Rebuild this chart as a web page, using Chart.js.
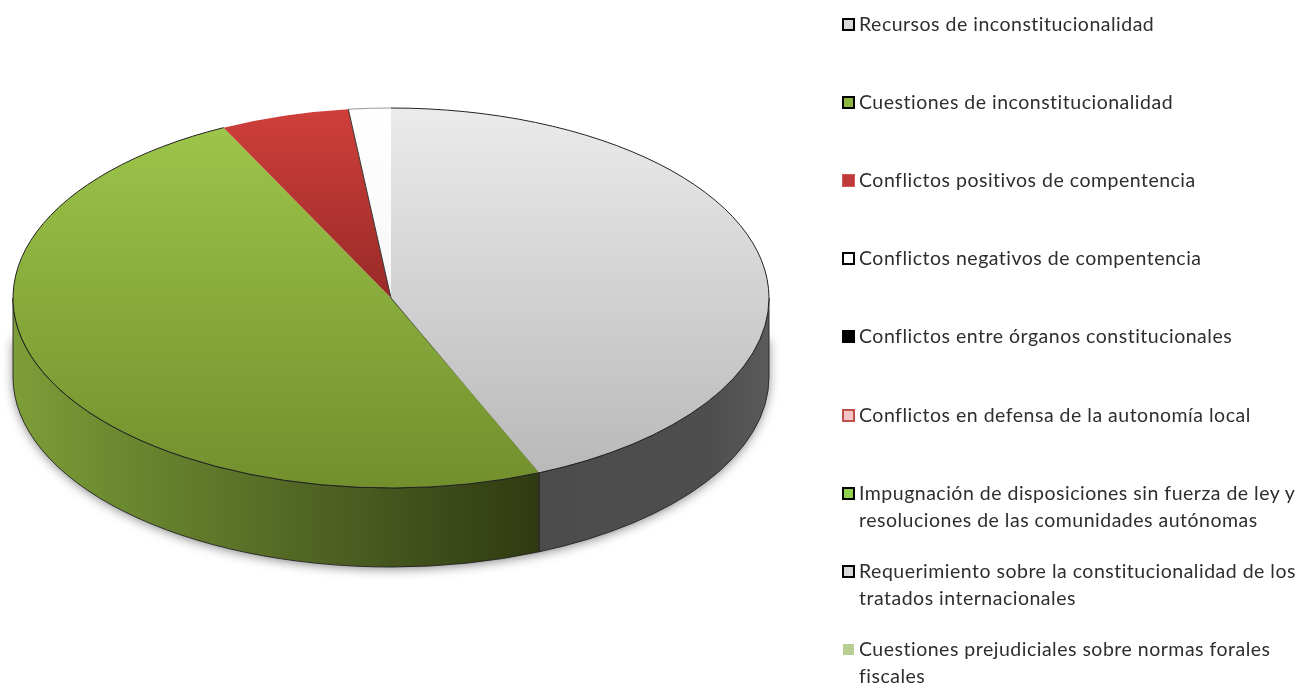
<!DOCTYPE html>
<html>
<head>
<meta charset="utf-8">
<script src="https://cdn.jsdelivr.net/npm/chart.js@4"></script>
<style>
  body { margin: 0; background: #fff; }
  #wrap { position: relative; width: 1304px; height: 686px; overflow: hidden; }
  #grafico { position: absolute; left: 0; top: 0; }
  .fila { position: absolute; left: 859px; font: 19.5px/27px Lato, sans-serif; letter-spacing: 0.5px; color: #2e2e2e; white-space: pre; }
  .marca { position: absolute; left: -17px; top: 8px; width: 13px; height: 13px; box-sizing: border-box; }
</style>
</head>
<body>
<div id="wrap">
  <canvas id="grafico" width="1304" height="686"></canvas>
  <div id="leyenda"></div>
</div>
<script>
const categorias = [
  "Recursos de inconstitucionalidad",
  "Cuestiones de inconstitucionalidad",
  "Conflictos positivos de compentencia",
  "Conflictos negativos de compentencia",
  "Conflictos entre órganos constitucionales",
  "Conflictos en defensa de la autonomía local",
  "Impugnación de disposiciones sin fuerza de ley y\nresoluciones de las comunidades autónomas",
  "Requerimiento sobre la constitucionalidad de los\ntratados internacionales",
  "Cuestiones prejudiciales sobre normas forales\nfiscales"
];
const valores = [43.6, 49.1, 5.5, 1.8, 0, 0, 0, 0, 0];

// legend swatches: fill, border
const marcaFondo = ["#d9d9d9", "#8fb63f", "#c0393a", "#ffffff", "#000000", "#f6c4c4", "#92d050", "#d9d9d9", "#b7cf92"];
const marcaBorde = ["#000000", "#000000", "#d05a58", "#000000", "#000000", "#c0504d", "#000000", "#000000", "#ffffff"];
const marcaGrosor = [2, 2, 1, 2, 2, 2, 2, 2, 1];

// top face gradient: colour top, colour bottom, top and bottom as fraction of the height
const caraSup = ["#ebebeb", "#9dc64a", "#d03f3a", "#ffffff", "#000", "#000", "#000", "#000", "#000"];
const caraInf = ["#b9b9b9", "#728f2d", "#982a28", "#f7f7f7", "#000", "#000", "#000", "#000", "#000"];
const caraDesde = [0, 0.03, 0, 0, 0, 0, 0, 0, 0];
const caraHasta = [0.96, 1, 0.5, 0.5, 1, 1, 1, 1, 1];

const cx = 391, cy = 298, rx = 378, ry = 190, fondo = 79;
const escala = ry / rx;

function rellenoCara(c) {
  const i = c.dataIndex;
  const g = c.chart.ctx.createLinearGradient(0, cy - rx + 2 * rx * caraDesde[i], 0, cy - rx + 2 * rx * caraHasta[i]);
  g.addColorStop(0, caraSup[i]);
  g.addColorStop(1, caraInf[i]);
  return g;
}

function rellenoLado(ctx, i) {
  const g = i === 0 ? ctx.createLinearGradient(538, 0, 769, 0) : ctx.createLinearGradient(13, 0, 538, 0);
  if (i === 0) {
    g.addColorStop(0, "#4c4c4c");
    g.addColorStop(0.75, "#4e4e4e");
    g.addColorStop(1, "#5a5a5a");
  } else {
    g.addColorStop(0, "#7d9e38");
    g.addColorStop(0.2, "#6b8a30");
    g.addColorStop(0.5, "#566b26");
    g.addColorStop(1, "#2f3a11");
  }
  return g;
}

const pie3d = {
  id: "pie3d",
  beforeDatasetsDraw(chart) {
    const ctx = chart.ctx;
    const arcos = chart.getDatasetMeta(0).data;

    // soft shadow under the cake
    ctx.save();
    ctx.shadowColor = "rgba(0,0,0,0.55)";
    ctx.shadowBlur = 12;
    ctx.shadowOffsetY = 2;
    ctx.fillStyle = "#555";
    ctx.beginPath();
    ctx.ellipse(cx, cy + fondo - 1, rx - 1, ry, 0, 0, Math.PI);
    ctx.lineTo(cx - rx + 1, cy + 40);
    ctx.lineTo(cx + rx - 1, cy + 40);
    ctx.closePath();
    ctx.fill();
    ctx.restore();

    // side wall, only the front half of each slice
    arcos.forEach((arco, i) => {
      const a0 = Math.max(arco.startAngle, 0);
      const a1 = Math.min(arco.endAngle, Math.PI);
      if (valores[i] === 0 || a1 <= a0) return;
      ctx.beginPath();
      ctx.ellipse(cx, cy, rx, ry, 0, a0, a1);
      ctx.ellipse(cx, cy + fondo, rx, ry, 0, a1, a0, true);
      ctx.closePath();
      ctx.fillStyle = rellenoLado(ctx, i);
      ctx.fill();
      ctx.strokeStyle = "#222";
      ctx.lineWidth = 0.9;
      ctx.stroke();
    });

    // squash the round pie into the ellipse of the top face
    ctx.save();
    ctx.translate(0, cy);
    ctx.scale(1, escala);
    ctx.translate(0, -cy);
  },
  afterDatasetsDraw(chart) {
    const ctx = chart.ctx;
    const arcos = chart.getDatasetMeta(0).data;
    ctx.restore();

    // rim of the top face, the red slice has none
    ctx.lineWidth = 1;
    arcos.forEach((arco, i) => {
      if (valores[i] === 0 || i === 2) return;
      ctx.strokeStyle = i === 3 ? "#9a9a9a" : "#222";
      ctx.beginPath();
      ctx.ellipse(cx, cy, rx, ry, 0, arco.startAngle, arco.endAngle);
      ctx.stroke();
    });

    // white / red edge
    const a = arcos[3].startAngle;
    ctx.strokeStyle = "#333";
    ctx.beginPath();
    ctx.moveTo(cx, cy);
    ctx.lineTo(cx + rx * Math.cos(a), cy + ry * Math.sin(a));
    ctx.stroke();

    // green / grey edge, fades out towards the rim
    const b = arcos[1].startAngle;
    const x1 = cx + rx * Math.cos(b), y1 = cy + ry * Math.sin(b);
    const g = ctx.createLinearGradient(cx, cy, x1, y1);
    g.addColorStop(0, "rgba(40,40,40,0.9)");
    g.addColorStop(0.5, "rgba(40,40,40,0)");
    ctx.strokeStyle = g;
    ctx.beginPath();
    ctx.moveTo(cx, cy);
    ctx.lineTo(x1, y1);
    ctx.stroke();
  }
};

new Chart(document.getElementById("grafico").getContext("2d"), {
  type: "pie",
  data: {
    labels: categorias,
    datasets: [{
      data: valores,
      radius: rx,
      backgroundColor: rellenoCara,
      borderWidth: 0
    }]
  },
  options: {
    responsive: false, // fixed size canvas
    animation: false,
    layout: { padding: { left: 0, top: 0, right: 1304 - 2 * cx, bottom: 686 - 2 * cy } },
    plugins: { legend: { display: false }, tooltip: { enabled: false } }
  },
  plugins: [pie3d]
});

// legend, one row every 78px
const leyenda = document.getElementById("leyenda");
categorias.forEach((nombre, i) => {
  const fila = document.createElement("div");
  fila.className = "fila";
  fila.style.top = (10 + 78.1 * i) + "px";
  fila.textContent = nombre;
  const marca = document.createElement("span");
  marca.className = "marca";
  marca.style.background = marcaFondo[i];
  marca.style.border = marcaGrosor[i] + "px solid " + marcaBorde[i];
  fila.appendChild(marca);
  leyenda.appendChild(fila);
});
</script>
</body>
</html>
